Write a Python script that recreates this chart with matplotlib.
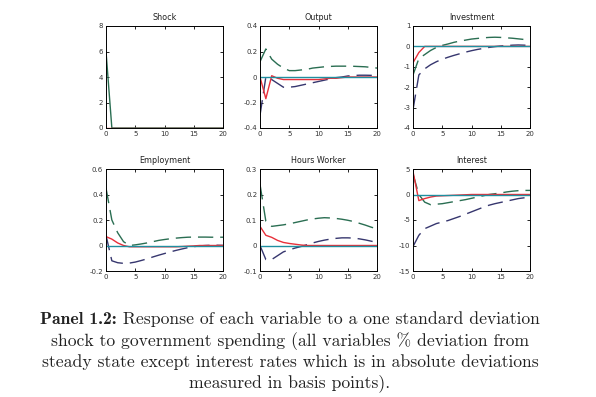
import matplotlib
matplotlib.use("Agg")
import matplotlib.pyplot as plt
import numpy as np

t = np.arange(0, 21)

titles = ["Shock", "Output", "Investment", "Employment", "Hours Worker", "Interest"]
ylims = [(0, 8), (-0.4, 0.4), (-4, 1), (-0.2, 0.6), (-0.1, 0.3), (-15, 5)]
yticks = [[0, 2, 4, 6, 8], [-0.4, -0.2, 0, 0.2, 0.4], [-4, -3, -2, -1, 0, 1],
          [-0.2, 0, 0.2, 0.4, 0.6], [-0.1, 0, 0.1, 0.2, 0.3], [-15, -10, -5, 0, 5]]
yticklabels = [["0", "2", "4", "6", "8"], ["-0.4", "-0.2", "0", "0.2", "0.4"],
               ["-4", "-3", "-2", "-1", "0", "1"], ["-0.2", "0", "0.2", "0.4", "0.6"],
               ["-0.1", "0", "0.1", "0.2", "0.3"], ["-15", "-10", "-5", "0", "5"]]

# series per panel (red solid, green dashed, navy dashed, teal solid)
shock_green = [6] + [0] * 20
shock_red = [0] * 21

output_red = [0, -0.17, 0.01, -0.01, -0.02, -0.02, -0.02, -0.02, -0.02, -0.02, -0.02,
              -0.015, -0.01, -0.01, -0.005, 0, 0, 0, 0, 0, 0]
output_green = [0.12, 0.22, 0.14, 0.10, 0.07, 0.05, 0.05, 0.055, 0.06, 0.07, 0.075,
                0.08, 0.083, 0.085, 0.085, 0.085, 0.084, 0.082, 0.08, 0.075, 0.07]
output_navy = [-0.3, 0.0, -0.02, -0.05, -0.08, -0.08, -0.075, -0.065, -0.055, -0.045, -0.035,
               -0.025, -0.015, -0.005, 0.0, 0.008, 0.012, 0.014, 0.014, 0.013, 0.01]

inv_red = [-0.8, -0.3, 0, 0, 0, 0, 0, 0, 0, 0, 0, 0, 0, 0, 0, 0, 0, 0, 0, 0, 0]
inv_green = [-1.4, -0.6, -0.4, -0.2, -0.05, 0.05, 0.12, 0.2, 0.26, 0.31, 0.36,
             0.39, 0.42, 0.44, 0.45, 0.44, 0.42, 0.4, 0.37, 0.34, 0.31]
inv_navy = [-3.1, -1.4, -1.1, -0.9, -0.75, -0.63, -0.53, -0.44, -0.36, -0.28, -0.21,
            -0.15, -0.1, -0.05, -0.01, 0.02, 0.04, 0.06, 0.07, 0.06, 0.05]

emp_red = [0.07, 0.05, 0.02, 0.0, -0.01, -0.01, -0.01, -0.01, -0.01, -0.01, -0.01,
           -0.01, -0.01, -0.008, -0.005, -0.003, 0, 0, 0, 0, 0]
emp_green = [0.45, 0.2, 0.1, 0.03, 0.0, 0.005, 0.012, 0.02, 0.03, 0.04, 0.047,
             0.053, 0.058, 0.062, 0.065, 0.066, 0.066, 0.066, 0.065, 0.065, 0.065]
emp_navy = [0.08, -0.12, -0.135, -0.14, -0.138, -0.13, -0.118, -0.105, -0.09, -0.076, -0.063,
            -0.05, -0.038, -0.027, -0.017, -0.009, -0.003, 0.0, 0.002, 0.002, 0.001]

hrs_red = [0.075, 0.04, 0.032, 0.02, 0.012, 0.008, 0.005, 0.002, 0.0, 0, 0,
           0, 0, 0, 0, 0, 0, 0, 0, 0, 0]
hrs_green = [0.24, 0.095, 0.075, 0.078, 0.081, 0.085, 0.09, 0.095, 0.1, 0.104, 0.107,
             0.109, 0.108, 0.106, 0.103, 0.099, 0.094, 0.087, 0.08, 0.072, 0.065]
hrs_navy = [0.0, -0.055, -0.055, -0.04, -0.025, -0.017, -0.01, -0.004, 0.003, 0.01, 0.016,
            0.021, 0.025, 0.028, 0.03, 0.03, 0.029, 0.026, 0.022, 0.017, 0.012]

int_red = [4.5, -1.2, -0.8, -0.5, -0.3, -0.25, -0.2, -0.15, -0.1, -0.05, 0,
           0, 0, 0, 0, 0, 0, 0, 0, 0, 0]
int_green = [4.0, 0.0, -1.5, -2.0, -1.9, -1.8, -1.6, -1.4, -1.2, -1.0, -0.75,
             -0.5, -0.25, 0.0, 0.15, 0.3, 0.5, 0.65, 0.75, 0.8, 0.8]
int_navy = [-10.2, -8.0, -6.7, -6.2, -5.7, -5.4, -5.1, -4.7, -4.3, -3.85, -3.4,
            -2.95, -2.5, -2.1, -1.8, -1.55, -1.3, -1.05, -0.8, -0.65, -0.5]

panels = [
    (None, shock_green, None),
    (output_red, output_green, output_navy),
    (inv_red, inv_green, inv_navy),
    (emp_red, emp_green, emp_navy),
    (hrs_red, hrs_green, hrs_navy),
    (int_red, int_green, int_navy),
]

caption_bold = "Panel 1.2:"
caption_lines = [
    " Response of each variable to a one standard deviation",
    "shock to government spending (all variables % deviation from",
    "steady state except interest rates which is in absolute deviations",
    "measured in basis points).",
]

RED = "#e8303a"
GREEN = "#2a6e52"
NAVY = "#36366e"
TEAL = "#1f8fa0"

fig = plt.figure(figsize=(5.96, 3.97), dpi=100)
lefts = [106 / 596, 260 / 596, 413 / 596]
w = 117 / 596
h = 102 / 397
bottoms = [1 - 128 / 397, 1 - 271 / 397]

for i, (title, (red, green, navy)) in enumerate(zip(titles, panels)):
    r, c = divmod(i, 3)
    ax = fig.add_axes([lefts[c], bottoms[r], w, h])
    if i == 0:
        ax.plot(t, green, color=GREEN, lw=1.0)
        ax.plot(t, shock_red, color=RED, lw=1.0)
    else:
        ax.plot(t, green, color=GREEN, lw=1.0, dashes=(11, 5))
        ax.plot(t, navy, color=NAVY, lw=1.0, dashes=(11, 5))
        ax.plot(t, red, color=RED, lw=1.0)
        ax.plot(t, [0] * 21, color=TEAL, lw=1.0)
    ax.set_xlim(0, 20)
    ax.set_ylim(*ylims[i])
    ax.set_xticks([0, 5, 10, 15, 20])
    ax.set_xticklabels(["0", "5", "10", "15", "20"])
    ax.set_yticks(yticks[i])
    ax.set_yticklabels(yticklabels[i])
    ax.tick_params(direction="in", length=2, width=0.6, labelsize=5, pad=2,
                   top=True, right=True, colors="black", labelcolor="#333333")
    for s in ax.spines.values():
        s.set_linewidth(0.7)
    ax.set_title(title, fontsize=5.8, pad=4, color="#222222")

fs = 12.7
ys = [319, 341, 362, 383]
renderer = fig.canvas.get_renderer()
tb = fig.text(0, 0, caption_bold, fontsize=fs, family="cmb10", color="#222222")
tr = fig.text(0, 0, caption_lines[0], fontsize=fs, family="cmr10", color="#222222")
wb = tb.get_window_extent(renderer).width
wr = tr.get_window_extent(renderer).width
cx = 290
x0 = cx - (wb + wr) / 2
tb.set_position((x0 / 596, 1 - ys[0] / 397))
tb.set_va("center")
tr.set_position(((x0 + wb) / 596, 1 - ys[0] / 397))
tr.set_va("center")
for s, y in zip(caption_lines[1:], ys[1:]):
    fig.text(cx / 596, 1 - y / 397, s, ha="center", va="center", fontsize=fs,
             family="cmr10", color="#222222")

fig.savefig("out.png", dpi=100)
